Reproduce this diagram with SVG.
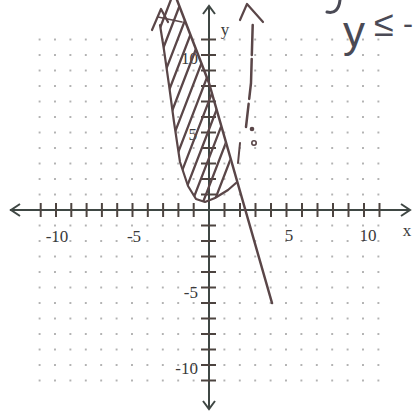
<svg xmlns="http://www.w3.org/2000/svg" width="414" height="415" viewBox="0 0 414 415">
  <style>
    .axis { stroke: #3f4744; stroke-width: 2; fill: none; }
    .tick { stroke: #4d4440; stroke-width: 2; }
    .num { font-family: "Liberation Serif", serif; font-size: 17px; fill: #3a3a3a; }
    .ink { stroke: #5a4648; fill: none; stroke-linecap: round; stroke-linejoin: round; }
    .hand { font-family: "Liberation Sans", sans-serif; fill: #4a4a55; }
  </style>
  <defs>
    <pattern id="dots" patternUnits="userSpaceOnUse" x="201.3" y="202.25" width="15.4" height="15.5">
      <circle cx="7.7" cy="7.75" r="1" fill="#9a9a9a"/>
    </pattern>
    <clipPath id="hatchClip">
      <polygon points="156,0 177,0 209,83 236,183 228,190 215,198 205,202 196,199 188,186 180,162 174,122 169,85 164,50 160,25"/>
    </clipPath>
  </defs>
  <rect width="414" height="415" fill="#ffffff"/>

  <g id="grid">
    <rect x="32" y="32" width="355" height="356" fill="url(#dots)"/>
  </g>

  <g id="axes">
    <line class="axis" x1="10" y1="210" x2="410" y2="210"/>
    <polyline class="axis" points="20,204 11,210 20,216"/>
    <polyline class="axis" points="401,204 410,210 401,216"/>
    <line class="axis" x1="209" y1="6" x2="209" y2="409"/>
    <polyline class="axis" points="203,14 209,6 215,14"/>
    <polyline class="axis" points="203,401 209,409 215,401"/>
    <g id="xticks" class="tick">
      <line x1="40.7" y1="203" x2="40.7" y2="217"/>
      <line x1="56" y1="203" x2="56" y2="217"/>
      <line x1="71.3" y1="203" x2="71.3" y2="217"/>
      <line x1="86.6" y1="203" x2="86.6" y2="217"/>
      <line x1="101.9" y1="203" x2="101.9" y2="217"/>
      <line x1="117.2" y1="203" x2="117.2" y2="217"/>
      <line x1="132.5" y1="203" x2="132.5" y2="217"/>
      <line x1="147.8" y1="203" x2="147.8" y2="217"/>
      <line x1="163.1" y1="203" x2="163.1" y2="217"/>
      <line x1="178.4" y1="203" x2="178.4" y2="217"/>
      <line x1="193.7" y1="203" x2="193.7" y2="217"/>
      <line x1="224.5" y1="203" x2="224.5" y2="217"/>
      <line x1="240" y1="203" x2="240" y2="217"/>
      <line x1="255.5" y1="203" x2="255.5" y2="217"/>
      <line x1="271" y1="203" x2="271" y2="217"/>
      <line x1="286.5" y1="203" x2="286.5" y2="217"/>
      <line x1="302" y1="203" x2="302" y2="217"/>
      <line x1="317.5" y1="203" x2="317.5" y2="217"/>
      <line x1="333" y1="203" x2="333" y2="217"/>
      <line x1="348.5" y1="203" x2="348.5" y2="217"/>
      <line x1="364" y1="203" x2="364" y2="217"/>
      <line x1="379.5" y1="203" x2="379.5" y2="217"/>
    </g>
    <g id="yticks" class="tick">
      <line x1="201" y1="39.5" x2="216" y2="39.5"/>
      <line x1="201" y1="55" x2="216" y2="55"/>
      <line x1="201" y1="70.5" x2="216" y2="70.5"/>
      <line x1="201" y1="86" x2="216" y2="86"/>
      <line x1="201" y1="101.5" x2="216" y2="101.5"/>
      <line x1="201" y1="117" x2="216" y2="117"/>
      <line x1="201" y1="132.5" x2="216" y2="132.5"/>
      <line x1="201" y1="148" x2="216" y2="148"/>
      <line x1="201" y1="163.5" x2="216" y2="163.5"/>
      <line x1="201" y1="179" x2="216" y2="179"/>
      <line x1="201" y1="194.5" x2="216" y2="194.5"/>
      <line x1="201" y1="225.5" x2="216" y2="225.5"/>
      <line x1="201" y1="241" x2="216" y2="241"/>
      <line x1="201" y1="256.5" x2="216" y2="256.5"/>
      <line x1="201" y1="272" x2="216" y2="272"/>
      <line x1="201" y1="287.5" x2="216" y2="287.5"/>
      <line x1="201" y1="303" x2="216" y2="303"/>
      <line x1="201" y1="318.5" x2="216" y2="318.5"/>
      <line x1="201" y1="334" x2="216" y2="334"/>
      <line x1="201" y1="349.5" x2="216" y2="349.5"/>
      <line x1="201" y1="365" x2="216" y2="365"/>
      <line x1="201" y1="380.5" x2="216" y2="380.5"/>
    </g>
  </g>

  <g id="labels">
    <text class="num" x="57" y="242" text-anchor="middle">-10</text>
    <text class="num" x="134" y="242" text-anchor="middle">-5</text>
    <text class="num" x="289" y="241" text-anchor="middle">5</text>
    <text class="num" x="368" y="241" text-anchor="middle">10</text>
    <text class="num" x="407" y="236" text-anchor="middle">x</text>
    <text class="num" x="225" y="35" text-anchor="middle">y</text>
    <text class="num" x="198" y="64" text-anchor="end">10</text>
    <text class="num" x="197" y="140" text-anchor="end">5</text>
    <text class="num" x="198" y="298" text-anchor="end">-5</text>
    <text class="num" x="198" y="374" text-anchor="end">-10</text>
  </g>

  <g id="shaded-region">
    <g clip-path="url(#hatchClip)" class="ink" stroke-width="2.3">
      <line x1="90" y1="210" x2="170.8" y2="0"/>
      <line x1="101" y1="210" x2="181.8" y2="0"/>
      <line x1="112" y1="210" x2="192.8" y2="0"/>
      <line x1="123" y1="210" x2="203.8" y2="0"/>
      <line x1="134" y1="210" x2="214.8" y2="0"/>
      <line x1="145" y1="210" x2="225.8" y2="0"/>
      <line x1="156" y1="210" x2="236.8" y2="0"/>
      <line x1="167" y1="210" x2="247.8" y2="0"/>
      <line x1="178" y1="210" x2="258.8" y2="0"/>
      <line x1="189" y1="210" x2="269.8" y2="0"/>
      <line x1="200" y1="210" x2="280.8" y2="0"/>
      <line x1="211" y1="210" x2="291.8" y2="0"/>
    </g>
    <polyline class="ink" stroke-width="2.2" points="160,25 164,50 169,85 174,122 180,162 188,186 196,199 205,202 215,198 228,190 236,183"/>
    <polyline class="ink" stroke-width="2.2" points="152,30 161,9 168,22"/>
    <line class="ink" stroke-width="1.6" x1="158" y1="17" x2="182" y2="22"/>
  </g>

  <g id="boundary-line">
    <polyline class="ink" stroke-width="2.5" points="177,0 209,83 272,303"/>
  </g>

  <g id="annotation-arrow">
    <polyline class="ink" stroke-width="2.2" points="240,20 247,4 263,22"/>
    <polyline class="ink" stroke-width="2.5" stroke-dasharray="30,4,40,5" points="252.7,25 251,83 246,127"/>
    <circle cx="252" cy="129" r="2.3" fill="#5a4648"/>
    <circle cx="254" cy="143" r="2.2" fill="none" stroke="#5a4648" stroke-width="1.6"/>
    <line class="ink" stroke-width="2" x1="240" y1="143" x2="238" y2="163"/>
  </g>

  <g id="handwriting">
    <path d="M340,0 C339,9 335,14 327,12" stroke="#4a4a55" stroke-width="3" fill="none" stroke-linecap="round"/>
    <text class="hand" x="343" y="47" font-size="44">y</text>
    <text class="hand" x="374" y="36" font-size="36">≤</text>
    <text class="hand" x="403" y="34" font-size="30">-</text>
  </g>
</svg>
